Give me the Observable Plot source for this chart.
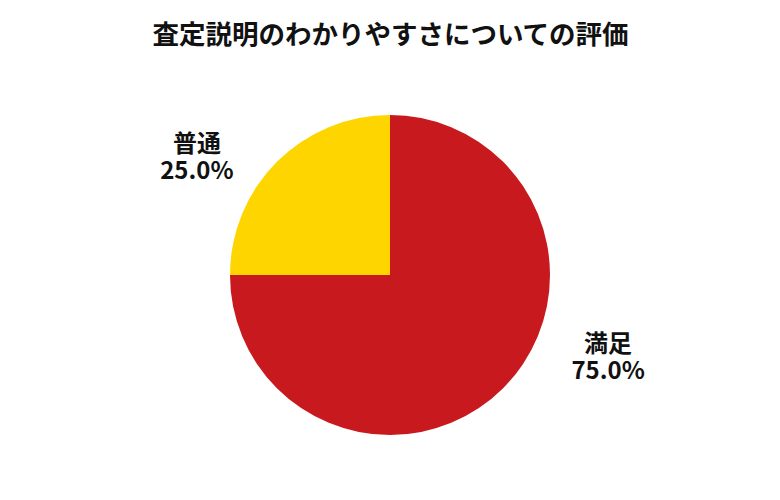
<!DOCTYPE html>
<html>
<head>
<meta charset="utf-8">
<script src="https://cdn.jsdelivr.net/npm/d3@7"></script>
<script src="https://cdn.jsdelivr.net/npm/@observablehq/plot@0.6"></script>
<style>
  html, body { margin: 0; padding: 0; background: #fff; }
  svg { font-family: "Noto Sans CJK JP", "Noto Sans", sans-serif; }
</style>
</head>
<body>
<div id="chart"></div>
<script>
const title = "査定説明のわかりやすさについての評価";
const categories = ["満足", "普通"];
const values = [75, 25];
const colors = ["#C8191E", "#FFD500"];

// layout (pixels -> pie units; radius = 1)
const W = 780, H = 500, R = 160, CX = 390, CY = 275;
const labelAnchors = { "満足": [1.36, -0.51], "普通": [-1.21, 0.74] };

const total = d3.sum(values);
const data = categories.map((c, i) => ({ category: c, value: values[i] }));
const pieData = d3.pie().sort(null).value(d => d.value)(data);
const fmt = d3.format(".1%");

const pieMark = (index, scales) => {
  const cx = scales.x(0), cy = scales.y(0);
  const r = scales.x(1) - scales.x(0);
  const arc = d3.arc().innerRadius(0).outerRadius(r);
  const g = d3.create("svg:g").attr("transform", `translate(${cx},${cy})`);
  g.selectAll("path").data(pieData).join("path")
    .attr("d", arc)
    .attr("fill", d => scales.color(d.data.category));
  return g.node();
};

const labels = data.map(d => ({
  x: labelAnchors[d.category][0],
  y: labelAnchors[d.category][1],
  text: `${d.category}\n${fmt(d.value / total)}`
}));

const chart = Plot.plot({
  width: W, height: H,
  margin: 0,
  x: { domain: [-CX / R, (W - CX) / R], axis: null },
  y: { domain: [-(H - CY) / R, CY / R], axis: null },
  color: { domain: categories, range: colors },
  marks: [
    pieMark,
    Plot.text(labels, {
      x: "x", y: "y", text: "text",
      fontSize: 24, fontWeight: "bold", fill: "#111",
      lineHeight: 1.1, textAnchor: "middle", lineAnchor: "middle"
    }),
    Plot.text([title], {
      x: () => 0, y: () => (CY - 35) / R, text: d => d,
      fontSize: 26.5, fontWeight: "bold", fill: "#111", lineAnchor: "middle"
    })
  ]
});
document.getElementById("chart").append(chart);
</script>
</body>
</html>
